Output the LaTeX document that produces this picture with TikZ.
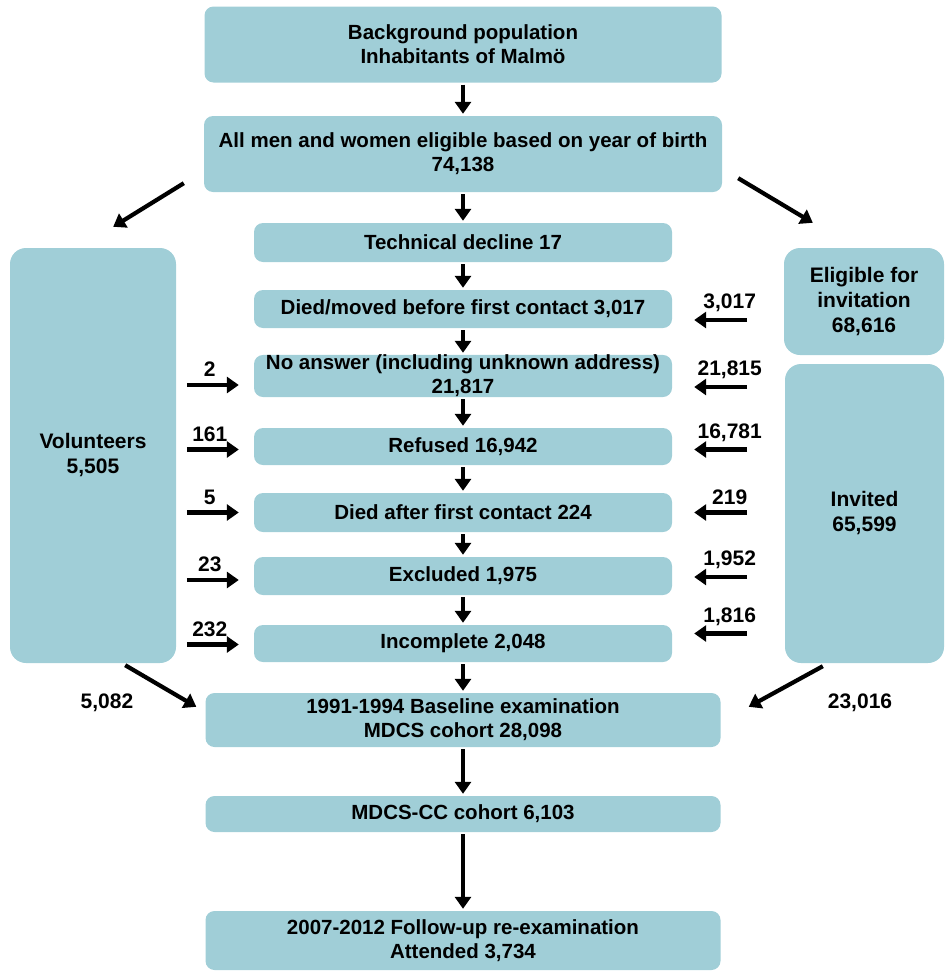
\documentclass[tikz,border=0pt]{standalone}
\usepackage{fontspec}
\setmainfont{Liberation Sans}
\usetikzlibrary{arrows.meta}
\definecolor{boxblue}{RGB}{160,206,215}

\begin{document}
\begin{tikzpicture}[x=1pt,y=-1pt,
  box/.style={fill=boxblue, rounded corners=9pt, align=center, inner sep=0pt,
    font=\bfseries\fontsize{20.5}{24}\selectfont},
  sidebox/.style={box, rounded corners=16pt, font=\bfseries\fontsize{21}{25}\selectfont},
  arr/.style={line width=4.2pt, -{Triangle[width=16pt,length=12pt]}},
  lbl/.style={font=\bfseries\fontsize{21}{24}\selectfont, inner sep=1pt}]

\useasboundingbox (0,0) rectangle (945,972);

% Define the central boxes in a loop: name/centre y/width/height/text
\foreach \name/\y/\w/\h/\txt in {
    bg/44.5/517/76/{Background population\\Inhabitants of Malmö},
    elig/154/518/76/{All men and women eligible based on year of birth\\74,138},
    tech/242.5/418/39/{Technical decline 17},
    died/309/418/38/{Died/moved before first contact 3,017},
    noans/376/418/42/{No answer (including unknown address)\\21,817},
    refused/446.5/418/37/{Refused 16,942},
    diedafter/512.5/418/39/{Died after first contact 224},
    excl/576/418/38/{Excluded 1,975},
    incompl/643.5/418/37/{Incomplete 2,048},
    base/720/515/54/{1991-1994 Baseline examination\\MDCS cohort 28,098},
    cc/814/515/36/{MDCS-CC cohort 6,103},
    follow/940.5/515/59/{2007-2012 Follow-up re-examination\\Attended 3,734}} {
    \node[box, minimum width=\w pt, minimum height=\h pt] (\name) at (463,\y) {\txt};
}

% Side boxes
\node[sidebox, minimum width=166pt, minimum height=415pt] (vol) at (93,455.5) {Volunteers\\5,505};
\node[sidebox, minimum width=160pt, minimum height=107pt] (eliginv) at (864,301.5) {Eligible for\\invitation\\68,616};
\node[sidebox, minimum width=159pt, minimum height=299pt] (invited) at (864.5,513.5) {Invited\\65,599};

% Main flow
\foreach \a/\b in {bg/elig, elig/tech, tech/died, died/noans, noans/refused, refused/diedafter,
    diedafter/excl, excl/incompl, incompl/base, base/cc, cc/follow} {
    \draw[arr, shorten <=2pt, shorten >=2pt] (\a) -- (\b);
}

% Volunteers into the flow
\foreach \n/\dy/\v in {noans/9/2, refused/3/161, diedafter/0/5, excl/4/23, incompl/1/232} {
    \draw[arr] ([shift={(-67,\dy)}]\n.west) -- ([shift={(-15,\dy)}]\n.west)
      node[lbl, midway, above=5pt, xshift=-3pt] {\v};
}

% Invited into the flow
\foreach \n/\dy/\v in {died/11/{3,017}, noans/11/{21,815}, refused/3/{16,781},
    diedafter/0/219, excl/1/{1,952}, incompl/-10/{1,816}} {
    \draw[arr] ([shift={(75,\dy)}]\n.east) -- ([shift={(22,\dy)}]\n.east)
      node[lbl, midway, above=5pt, xshift=9pt] {\v};
}

% Split and merge
\draw[arr] ([shift={(-20,-9)}]elig.south west) -- ([shift={(-63,-21)}]vol.north east);
\draw[arr] ([shift={(16,-14)}]elig.south east) -- ([shift={(29,-25)}]eliginv.north west);
\draw[arr] ([shift={(-51,2)}]vol.south east) -- ([shift={(-9,14)}]base.north west);
\draw[arr] ([shift={(38,3)}]invited.south west) -- ([shift={(28,14)}]base.north east);

\node[lbl] (nvol) at (107,703) {5,082};
\node[lbl] (ninv) at (860,703) {23,016};

\end{tikzpicture}
\end{document}
